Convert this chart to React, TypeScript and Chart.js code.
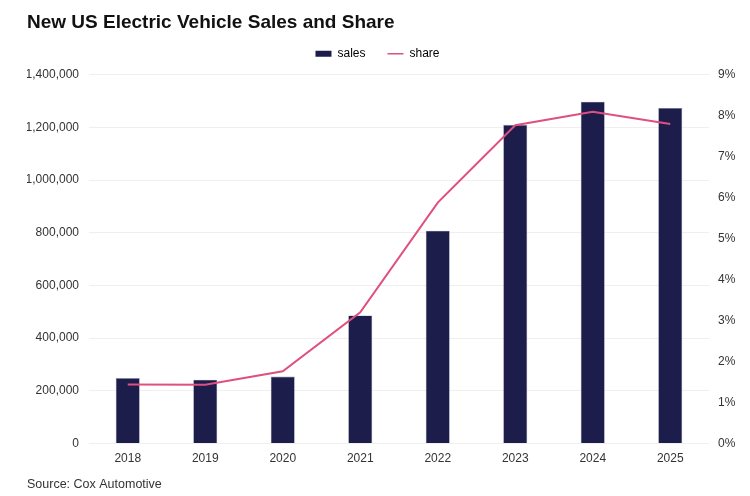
import React, { useEffect, useRef } from "react";
import { Chart, registerables } from "chart.js";

Chart.register(...registerables);

const years = ["2018", "2019", "2020", "2021", "2022", "2023", "2024", "2025"];
const sales = [248000, 242000, 254000, 486000, 808000, 1210000, 1298000, 1274000];
const share = [1.44, 1.43, 1.76, 3.2, 5.88, 7.77, 8.1, 7.8];
const salesTicks = [0, 200000, 400000, 600000, 800000, 1000000, 1200000, 1400000];
const shareTicks = [0, 1, 2, 3, 4, 5, 6, 7, 8, 9];

const NAVY = "#1d1d4b";
const PINK = "#e0507f";
const FONT = "'Liberation Sans', Arial, sans-serif";

const legendTweak = {
  id: "legendTweak",
  beforeLayout(chart: any) {
    const lg = chart.legend;
    if (!lg || lg._tweaked) return;
    lg._tweaked = true;
    const fit = lg.fit;
    lg.fit = function () {
      fit.call(this);
      this.height += 5;
    };
    const draw = lg.draw;
    lg.draw = function () {
      const ctx = this.ctx;
      ctx.save();
      ctx.translate(-6, 0);
      draw.call(this);
      ctx.restore();
    };
  },
};

export default function App() {
  const ref = useRef<HTMLCanvasElement | null>(null);

  useEffect(() => {
    if (!ref.current) return;
    const chart = new Chart(ref.current, {
      data: {
        labels: years,
        datasets: [
          {
            type: "line",
            label: "share",
            data: share,
            yAxisID: "y1",
            borderColor: PINK,
            backgroundColor: PINK,
            borderWidth: 2,
            pointRadius: 0,
            tension: 0,
            order: 0,
          },
          {
            type: "bar",
            label: "sales",
            data: sales,
            yAxisID: "y",
            backgroundColor: NAVY,
            borderColor: "#8a8ab0",
            borderWidth: 0.6,
            categoryPercentage: 1,
            barPercentage: 0.31,
            order: 1,
          },
        ],
      } as any,
      options: {
        animation: false,
        responsive: false,
        maintainAspectRatio: false,
        layout: { padding: { left: 27, right: 10, top: 0, bottom: 0 } },
        plugins: {
          title: {
            display: true,
            text: "New US Electric Vehicle Sales and Share",
            align: "start",
            color: "#111",
            font: { family: FONT, size: 19, weight: "bold" },
            padding: { top: 11, bottom: -8 },
          },
          subtitle: {
            display: true,
            position: "bottom",
            text: "Source: Cox Automotive",
            align: "start",
            color: "#333",
            font: { family: FONT, size: 12.5 },
            padding: { top: 8, bottom: 4 },
          },
          legend: {
            display: true,
            position: "top",
            labels: {
              color: "#333",
              font: { family: FONT, size: 12 },
              usePointStyle: true,
              pointStyleWidth: 16,
              boxHeight: 6,
              padding: 22,
              generateLabels: () => [
                {
                  text: "sales",
                  fillStyle: NAVY,
                  strokeStyle: NAVY,
                  lineWidth: 0,
                  pointStyle: "rect",
                  datasetIndex: 1,
                  hidden: false,
                },
                {
                  text: "share",
                  fillStyle: PINK,
                  strokeStyle: PINK,
                  lineWidth: 1.5,
                  pointStyle: "line",
                  datasetIndex: 0,
                  hidden: false,
                },
              ],
            },
          },
          tooltip: { enabled: false },
        },
        scales: {
          x: {
            grid: { display: false, drawTicks: false },
            border: { display: false },
            afterFit: (s: any) => {
              s.height = 25.6;
            },
            ticks: { color: "#333", font: { family: FONT, size: 12 }, padding: 8 },
          },
          y: {
            position: "left",
            min: 0,
            max: 1400000,
            afterBuildTicks: (s: any) => {
              s.ticks = salesTicks.map((v) => ({ value: v }));
            },
            afterFit: (s: any) => {
              s.width = 62;
            },
            grid: { color: "#efefef", drawTicks: false, lineWidth: 1 },
            border: { display: false },
            ticks: {
              color: "#333",
              font: { family: FONT, size: 12 },
              padding: 10,
              callback: (v: any) => Number(v).toLocaleString("en-US"),
            },
          },
          y1: {
            position: "right",
            min: 0,
            max: 9,
            afterBuildTicks: (s: any) => {
              s.ticks = shareTicks.map((v) => ({ value: v }));
            },
            afterFit: (s: any) => {
              s.width = 31;
            },
            grid: { display: false, drawTicks: false },
            border: { display: false },
            ticks: {
              color: "#333",
              font: { family: FONT, size: 12 },
              padding: 9,
              callback: (v: any) => v + "%",
            },
          },
        },
      },
      plugins: [legendTweak],
    });
    return () => chart.destroy();
  }, []);

  return (
    <div style={{ position: "fixed", left: 0, top: 0, width: 750, height: 496, background: "#fff" }}>
      <canvas ref={ref} width={750} height={496} style={{ width: 750, height: 496 }} />
    </div>
  );
}
